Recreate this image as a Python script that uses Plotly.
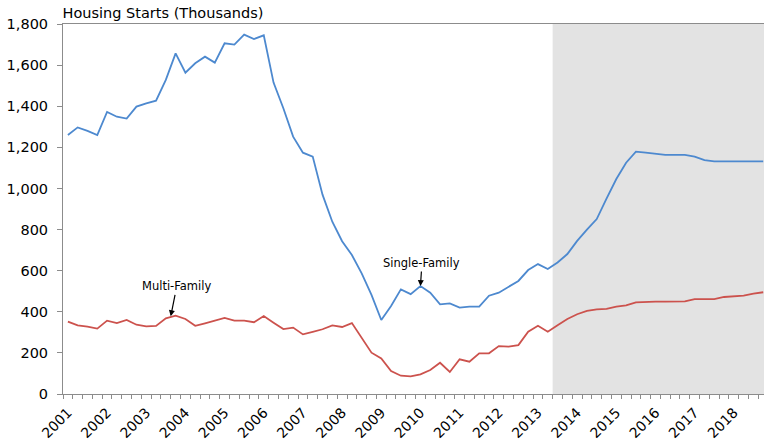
import plotly.graph_objects as go

years = [str(y) for y in range(2001, 2019)]
quarters = list(range(72))

single_family = [
    1260, 1297, 1280, 1260, 1372, 1349, 1340, 1398, 1414, 1427,
    1528, 1657, 1563, 1609, 1641, 1612, 1706, 1700, 1748, 1727,
    1745, 1515, 1390, 1252, 1174, 1155, 970, 838, 743, 676,
    587, 482, 360, 428, 509, 486, 525, 493, 436, 441,
    420, 425, 425, 478, 493, 522, 550, 603, 632, 608,
    640, 681, 745, 800, 851, 950, 1046, 1125, 1179, 1174,
    1168, 1163, 1163, 1163, 1155, 1138, 1132, 1132, 1132, 1132,
    1132, 1132,
]

multi_family = [
    352, 334, 328, 318, 357, 345, 360, 337, 329, 331,
    368, 381, 365, 332, 344, 358, 370, 357, 357, 349,
    379, 347, 316, 323, 290, 302, 315, 334, 326, 345,
    275, 201, 173, 112, 89, 86, 96, 117, 152, 107,
    169, 157, 198, 198, 233, 230, 238, 303, 332, 303,
    335, 365, 388, 404, 412, 414, 425, 431, 446, 449,
    449, 449, 449, 451, 462, 462, 462, 472, 476, 479,
    488, 495,
]

forecast_start = 49.5
year_tick_positions = [i * 4 for i in range(len(years))]

FONT = "DejaVu Sans"
AXIS_COLOR = "#8c8c8c"

fig = go.Figure()
fig.add_shape(type="rect", xref="x", yref="y", x0=forecast_start, x1=72,
              y0=0, y1=1800, fillcolor="#e3e3e3", line_width=0, layer="below")

fig.add_trace(go.Scatter(x=quarters, y=single_family, mode="lines",
                         name="Single-Family",
                         line=dict(color="#4d89cf", width=1.8)))
fig.add_trace(go.Scatter(x=quarters, y=multi_family, mode="lines",
                         name="Multi-Family",
                         line=dict(color="#cc524d", width=1.8)))

fig.add_annotation(x=36, y=525, xref="x", yref="y", text="Single-Family",
                   showarrow=True, arrowhead=2, arrowsize=1, arrowwidth=1.2,
                   arrowcolor="black", ax=1.5, ay=-23, standoff=0,
                   font=dict(family=FONT, size=11.5, color="black"))
fig.add_annotation(x=10.5, y=378, xref="x", yref="y", text="Multi-Family",
                   showarrow=True, arrowhead=2, arrowsize=1, arrowwidth=1.2,
                   arrowcolor="black", ax=6, ay=-30, standoff=0,
                   font=dict(family=FONT, size=11.5, color="black"))

fig.update_layout(
    width=764, height=444,
    margin=dict(l=62.5, r=0, t=24, b=50, pad=0),
    paper_bgcolor="white", plot_bgcolor="white",
    showlegend=False,
    font=dict(family=FONT, color="black"),
    title=dict(text="Housing Starts (Thousands)", x=62.5 / 764, xanchor="left",
               xref="container", y=1 - 13 / 444, yanchor="middle",
               font=dict(family=FONT, size=14.5, color="black")),
    xaxis=dict(range=[-0.5, 71.08], tickmode="array",
               tickvals=year_tick_positions, ticktext=years,
               tickangle=-45, ticks="", showgrid=False, zeroline=False,
               showline=True, linecolor=AXIS_COLOR, linewidth=1, mirror=True,
               tickfont=dict(family=FONT, size=14, color="black"),
               ticklabelstandoff=4, automargin=False,
               minor=dict(ticks="outside", ticklen=4, tick0=-0.5, dtick=1,
                          tickcolor=AXIS_COLOR, tickwidth=1, showgrid=False)),
    yaxis=dict(range=[0, 1800], dtick=200, tickformat=",", ticks="outside",
               ticklen=5, tickcolor=AXIS_COLOR, showgrid=False, zeroline=False,
               showline=True, linecolor=AXIS_COLOR, linewidth=1,
               tickfont=dict(family=FONT, size=14.5, color="black"),
               ticklabelstandoff=6, automargin=False),
)

fig.write_html("out.html",
               config={"displayModeBar": False},
               post_script="document.body.style.margin='0';document.body.style.overflow='hidden';")
